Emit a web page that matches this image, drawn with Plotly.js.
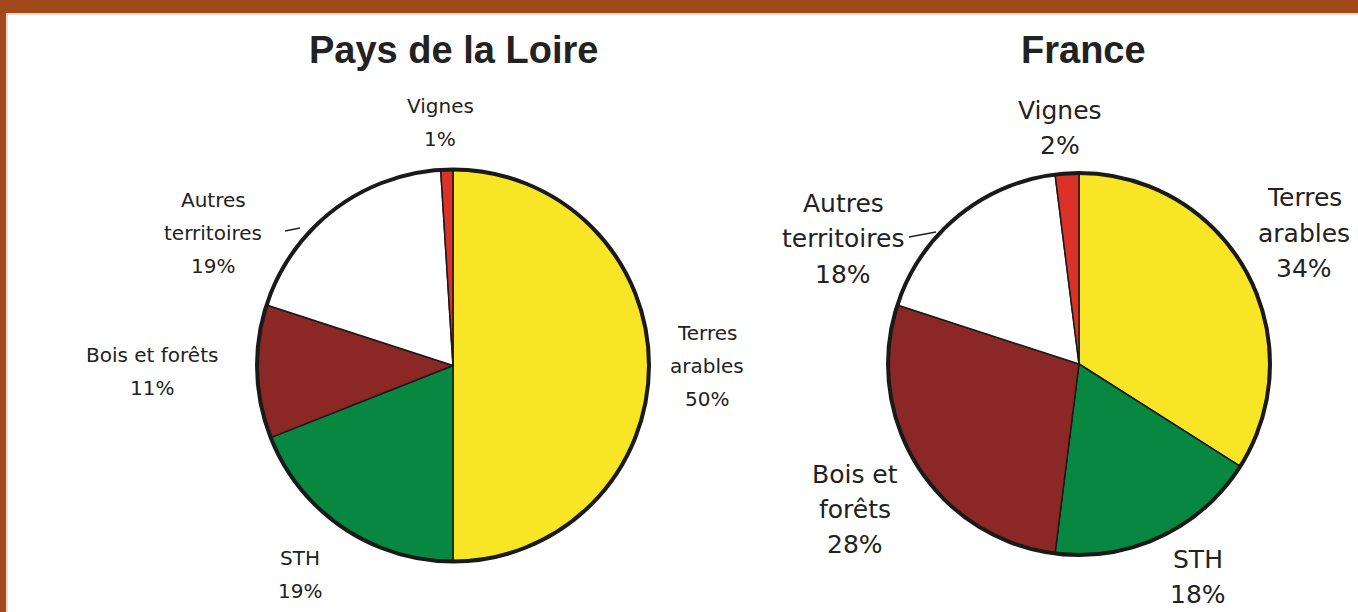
<!DOCTYPE html>
<html>
<head>
<meta charset="utf-8">
<script src="https://cdn.plot.ly/plotly-3.0.1.min.js"></script>
<style>html,body{margin:0;padding:0;background:#fff;}#chart{width:1358px;height:612px;}</style>
</head>
<body>
<div id="chart"></div>
<script>
// Data
var categories = ["Terres arables", "STH", "Bois et forêts", "Autres territoires", "Vignes"];
var valuesPDL = [50, 19, 11, 19, 1];
var valuesFrance = [34, 18, 28, 18, 2];
var labelLinesPDL = ["Terres<br>arables", "STH", "Bois et forêts", "Autres<br>territoires", "Vignes"];
var labelLinesFrance = ["Terres<br>arables", "STH", "Bois et<br>forêts", "Autres<br>territoires", "Vignes"];
var titles = ["Pays de la Loire", "France"];
var colors = ["#F7E526", "#07873F", "#8B2724", "#FFFFFF", "#DA3228"];

var W = 1358, H = 612;
function px(x){ return x / W; }
function py(y){ return 1 - y / H; }

var pies = [
  {cx: 453, cy: 365.5, r: 196, values: valuesPDL, lines: labelLinesPDL, fs: 20, lh: 33,
   pos: [[707, 333], [300, 558], [152, 355], [213, 200], [440, 106]],
   leader: [[285, 231], [300, 228]], tx: 453},
  {cx: 1079, cy: 364, r: 191, values: valuesFrance, lines: labelLinesFrance, fs: 25, lh: 35,
   pos: [[1304, 198], [1198, 559], [855, 474], [843, 204], [1060, 110]],
   leader: [[909, 237], [936, 232]], tx: 1083}
];

var data = [];
var annotations = [];
var shapes = [];

pies.forEach(function(p, k){
  var dom = {x: [px(p.cx - p.r), px(p.cx + p.r)], y: [py(p.cy + p.r), py(p.cy - p.r)]};
  data.push({
    type: 'pie', values: p.values, labels: categories, sort: false,
    direction: 'clockwise', rotation: 0, textinfo: 'none', hoverinfo: 'label+percent',
    marker: {colors: colors, line: {color: '#1a1a1a', width: 1.5}},
    domain: dom, showlegend: false
  });
  data.push({
    type: 'pie', values: [1], labels: ['outline' + k], sort: false, textinfo: 'none', hoverinfo: 'skip',
    marker: {colors: ['rgba(0,0,0,0)'], line: {color: '#1a1a1a', width: 4}},
    domain: dom, showlegend: false
  });
  annotations.push({
    xref: 'paper', yref: 'paper', x: px(p.tx), y: py(50), xanchor: 'center', yanchor: 'middle',
    text: '<b>' + titles[k] + '</b>', showarrow: false,
    font: {family: 'Liberation Sans, Arial, sans-serif', size: 38, color: '#222'}
  });
  categories.forEach(function(c, i){
    var lines = p.lines[i].split('<br>');
    lines.push(p.values[i] + '%');
    lines.forEach(function(t, j){
      annotations.push({
        xref: 'paper', yref: 'paper', x: px(p.pos[i][0]), y: py(p.pos[i][1] + j * p.lh),
        xanchor: 'center', yanchor: 'middle', text: t, showarrow: false,
        font: {family: 'DejaVu Sans, sans-serif', size: p.fs, color: '#222'}
      });
    });
  });
  shapes.push({type: 'line', xref: 'paper', yref: 'paper',
    x0: px(p.leader[0][0]), y0: py(p.leader[0][1]), x1: px(p.leader[1][0]), y1: py(p.leader[1][1]),
    line: {color: '#222', width: 1.5}});
});

shapes.push({type: 'rect', xref: 'paper', yref: 'paper', x0: 0, x1: 1, y0: py(13), y1: 1,
  fillcolor: '#A0491C', line: {width: 0}, layer: 'above'});
shapes.push({type: 'rect', xref: 'paper', yref: 'paper', x0: 0, x1: px(6), y0: 0, y1: 1,
  fillcolor: '#A0491C', line: {width: 0}, layer: 'above'});
shapes.push({type: 'line', xref: 'paper', yref: 'paper', x0: px(6), x1: 1, y0: py(14), y1: py(14),
  line: {color: '#E9C9B6', width: 1.5}, layer: 'above'});
shapes.push({type: 'line', xref: 'paper', yref: 'paper', x0: px(7), x1: px(7), y0: 0, y1: py(14),
  line: {color: '#E9C9B6', width: 1.5}, layer: 'above'});

var layout = {
  width: W, height: H, margin: {l: 0, r: 0, t: 0, b: 0},
  paper_bgcolor: '#ffffff', plot_bgcolor: '#ffffff',
  showlegend: false, annotations: annotations, shapes: shapes
};

Plotly.newPlot('chart', data, layout, {displayModeBar: false, staticPlot: true});
</script>
</body>
</html>
